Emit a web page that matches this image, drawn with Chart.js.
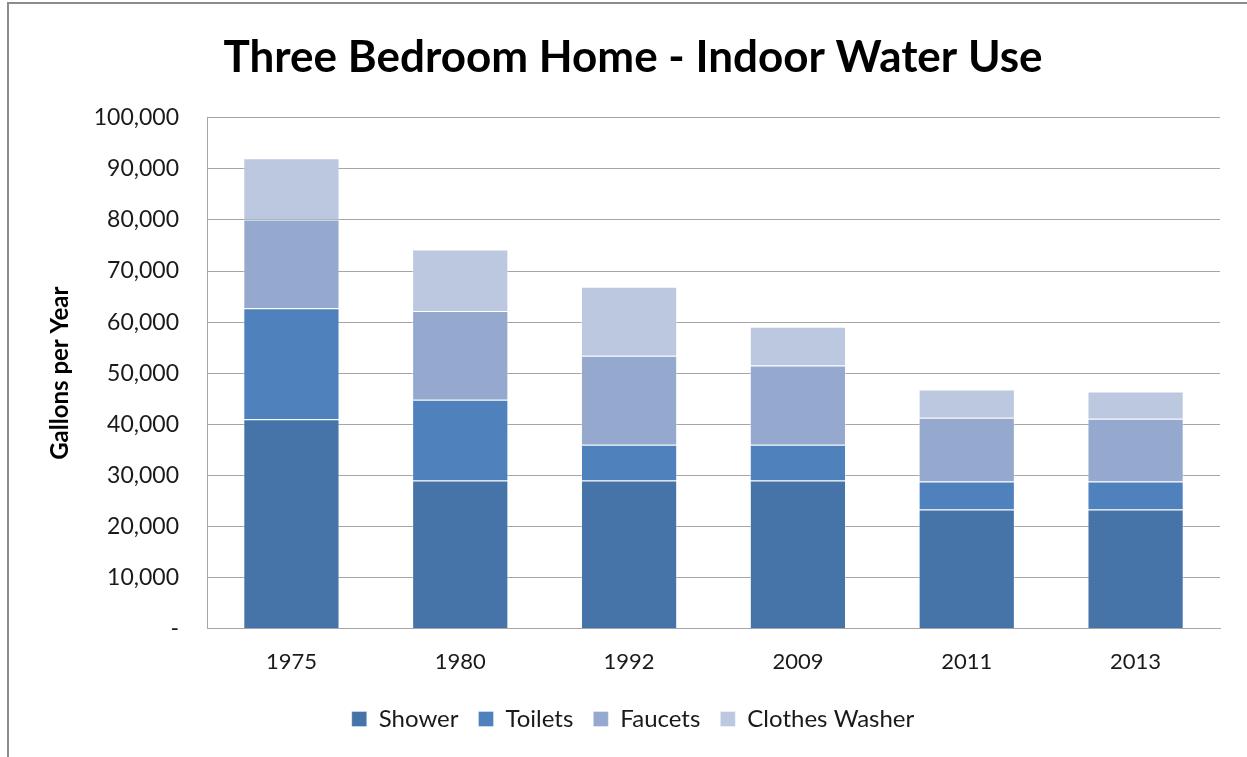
<!doctype html>
<html>
  <head>
    <title>Indoor Water Use</title>
    <script src="https://cdn.jsdelivr.net/npm/chart.js@4"></script>
    <style>
      body { margin: 0; background: #fff; }
      #wrap { width: 1247px; height: 757px; }
    </style>
  </head>
  <body>
    <div id="wrap"><canvas id="waterChart" width="1247" height="757"></canvas></div>
    <script>
      // values, gallons per year
      var years = ["1975", "1980", "1992", "2009", "2011", "2013"];
      var shower = [41000, 29000, 29000, 29000, 23300, 23300];
      var toilets = [21700, 15800, 7000, 7000, 5500, 5500];
      var faucets = [17400, 17400, 17400, 15500, 12500, 12300];
      var washer = [12000, 12000, 13500, 7600, 5500, 5300];
      var yTicks = [0, 10000, 20000, 30000, 40000, 50000, 60000, 70000, 80000, 90000, 100000];

      var textFont = "Lato, 'Open Sans', sans-serif";

      // thin frame on the left and top like the original sheet
      var framePlugin = {
        id: "frame",
        beforeDraw: function (chart) {
          var c = chart.ctx;
          c.save();
          c.strokeStyle = "#8c8c8c";
          c.lineWidth = 2;
          c.beginPath();
          c.moveTo(8, 757);
          c.lineTo(8, 3);
          c.lineTo(1247, 3);
          c.stroke();
          c.restore();
        },
      };

      function ds(label, data, color) {
        return {
          label: label,
          data: data,
          backgroundColor: color,
          borderColor: "rgba(255,255,255,0.35)",
          borderWidth: 1,
          barPercentage: 0.57,
          categoryPercentage: 1.0,
        };
      }

      var ctx = document.getElementById("waterChart").getContext("2d");
      var waterChart = new Chart(ctx, {
        type: "bar",
        data: {
          labels: years,
          datasets: [
            ds("Shower", shower, "#4674A8"),
            ds("Toilets", toilets, "#4F81BD"),
            ds("Faucets", faucets, "#95A9CF"),
            ds("Clothes Washer", washer, "#BBC8E0"),
          ],
        },
        plugins: [framePlugin],
        options: {
          responsive: false,
          animation: false,
          layout: { padding: { left: 46, right: 27, top: 0, bottom: 16 } },
          plugins: {
            title: {
              display: true,
              text: "Three Bedroom Home - Indoor Water Use",
              color: "#000",
              font: { family: textFont, size: 44, weight: "bold" },
              padding: { top: 31, bottom: 34 },
            },
            legend: {
              position: "bottom",
              labels: {
                color: "#1a1a1a",
                font: { family: textFont, size: 24 },
                boxWidth: 15,
                boxHeight: 15,
                padding: 20,
              },
            },
            tooltip: { enabled: false },
          },
          scales: {
            x: {
              stacked: true,
              grid: { display: false },
              border: { color: "#a6a6a6" },
              ticks: {
                color: "#1a1a1a",
                font: { family: textFont, size: 22 },
                padding: 12,
              },
            },
            y: {
              stacked: true,
              min: 0,
              max: 100000,
              afterBuildTicks: function (scale) {
                scale.ticks = yTicks.map(function (v) { return { value: v }; });
              },
              afterFit: function (scale) {
                scale.width = 161;
              },
              grid: { color: "#a6a6a6", drawTicks: false },
              border: { color: "#a6a6a6" },
              ticks: {
                color: "#1a1a1a",
                font: { family: textFont, size: 23 },
                padding: 28,
                callback: function (v) {
                  return v === 0 ? "-" : v.toLocaleString("en-US");
                },
              },
              title: {
                display: true,
                text: "Gallons per Year",
                color: "#000",
                font: { family: textFont, size: 24, weight: "bold" },
                padding: { top: 0, bottom: 10 },
              },
            },
          },
        },
      });
    </script>
  </body>
</html>
